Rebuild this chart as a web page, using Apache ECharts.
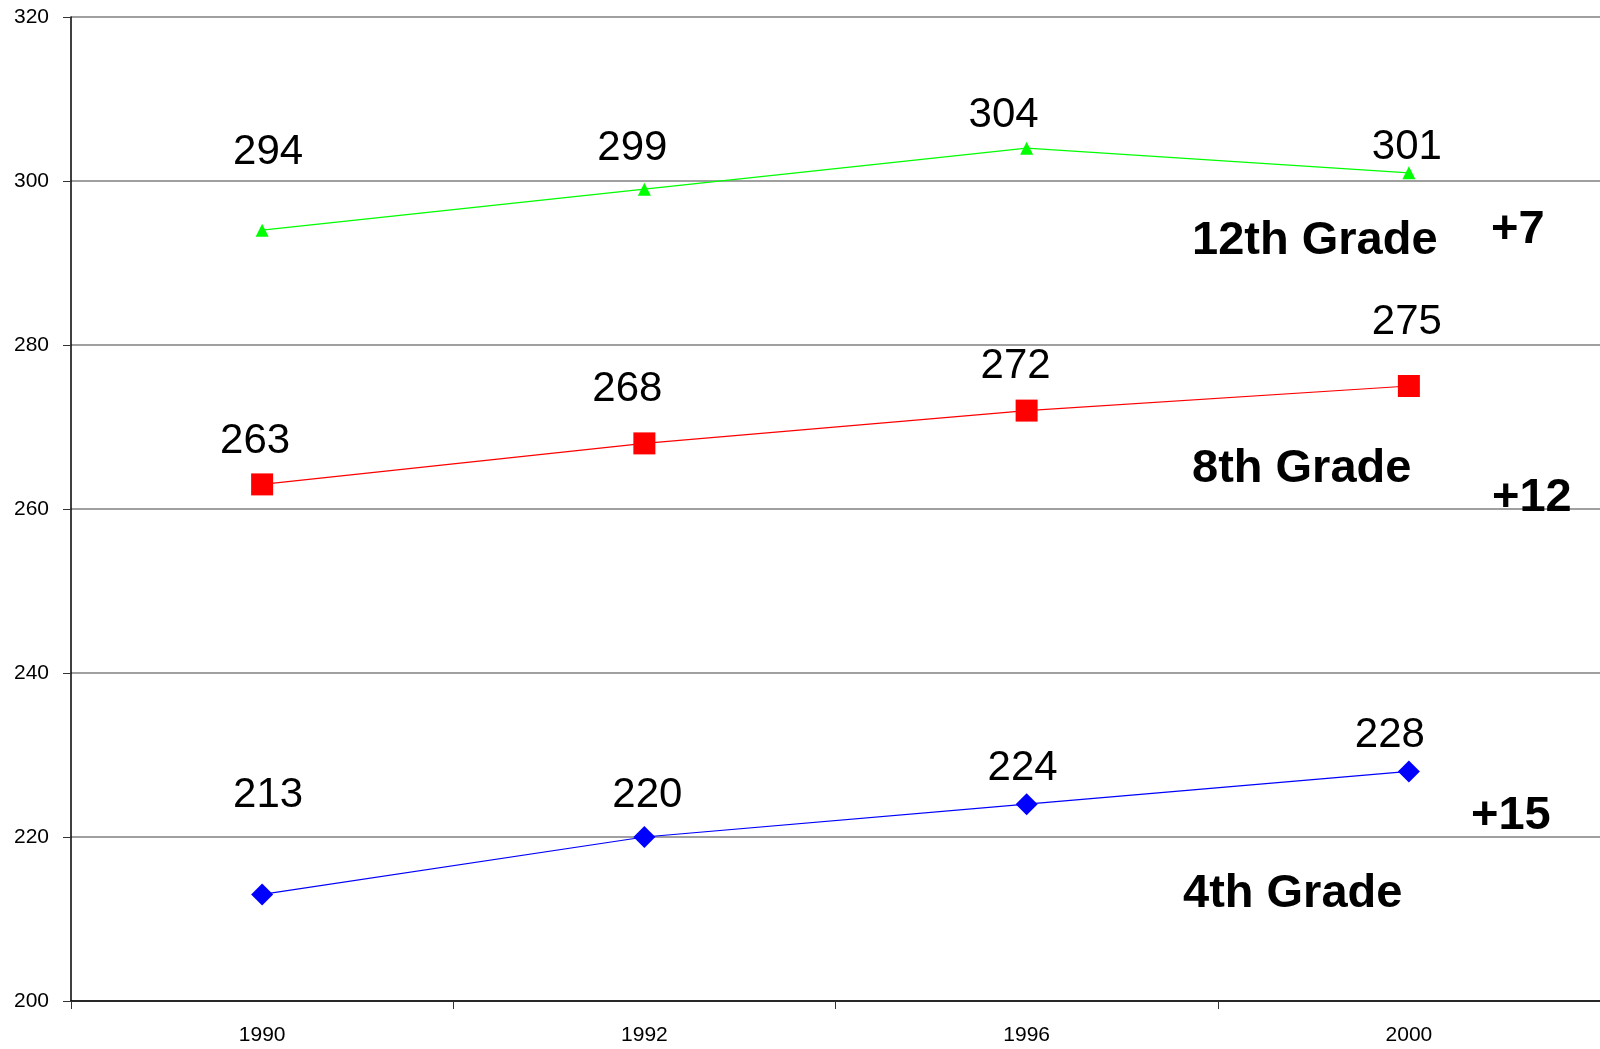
<!DOCTYPE html>
<html>
<head>
<meta charset="utf-8">
<script src="https://cdn.jsdelivr.net/npm/echarts@6/dist/echarts.min.js"></script>
<style>html,body{margin:0;padding:0;background:#fff}#c{width:1600px;height:1049px}</style>
</head>
<body>
<div id="c"></div>
<script>
const years = ['1990', '1992', '1996', '2000'];
const grade12 = [294, 299, 304, 301];
const grade8 = [263, 268, 272, 275];
const grade4 = [213, 220, 224, 228];
const yTicks = [200, 220, 240, 260, 280, 300, 320];

// label placement (layout only)
const off12 = [[6, -78], [-12, -41], [-23, -33], [-2, -25]];
const off8 = [[-7, -43], [-17, -54], [-11, -44], [-2, -64]];
const off4 = [[6, -99], [3, -42], [-4, -36], [-19, -36]];

const FONT = '"Liberation Sans", Arial, sans-serif';

function mk(name, vals, offs, color, symbol, size) {
  return {
    name: name, type: 'line', data: vals.map((v, i) => ({
      value: v,
      label: { offset: offs[i] }
    })),
    symbol: symbol, symbolSize: size,
    lineStyle: { color: color, width: 1.2 },
    itemStyle: { color: color },
    label: {
      show: true, position: 'inside', color: '#000',
      fontSize: 42, fontFamily: FONT
    },
    animation: false
  };
}

function txt(t, x, y) {
  return { type: 'text', x: x, y: y, z: 100,
    style: { text: t, font: 'bold 47px ' + FONT, fill: '#000', align: 'left', verticalAlign: 'middle' } };
}

const chart = echarts.init(document.getElementById('c'));
chart.setOption({
  backgroundColor: '#fff',
  animation: false,
  grid: { left: 71, right: 0, top: 17, bottom: 48 },
  xAxis: {
    type: 'category', data: years, boundaryGap: true,
    axisLine: { lineStyle: { color: '#000', width: 1.5 } },
    axisTick: { show: true, length: 8, interval: 0, lineStyle: { color: '#333' } },
    axisLabel: { color: '#000', fontSize: 21, fontFamily: FONT, margin: 24 },
    splitLine: { show: false }
  },
  yAxis: {
    type: 'value', min: yTicks[0], max: yTicks[yTicks.length - 1], interval: 20,
    axisLine: { show: true, lineStyle: { color: '#000', width: 1.5 } },
    axisTick: { show: true, length: 8, lineStyle: { color: '#333' } },
    axisLabel: { color: '#000', fontSize: 21, fontFamily: FONT, margin: 22 },
    splitLine: { show: true, lineStyle: { color: '#808080', width: 1.5 } }
  },
  series: [
    mk('12th Grade', grade12, off12, '#00ff00', 'triangle', 13),
    mk('8th Grade', grade8, off8, '#ff0000', 'rect', 22),
    mk('4th Grade', grade4, off4, '#0000ff', 'diamond', 22)
  ],
  graphic: [
    txt('12th Grade', 1192, 241),
    txt('+7', 1491, 230),
    txt('8th Grade', 1192, 469),
    txt('+12', 1492, 498),
    txt('4th Grade', 1183, 894),
    txt('+15', 1471, 816)
  ]
});
</script>
</body>
</html>
